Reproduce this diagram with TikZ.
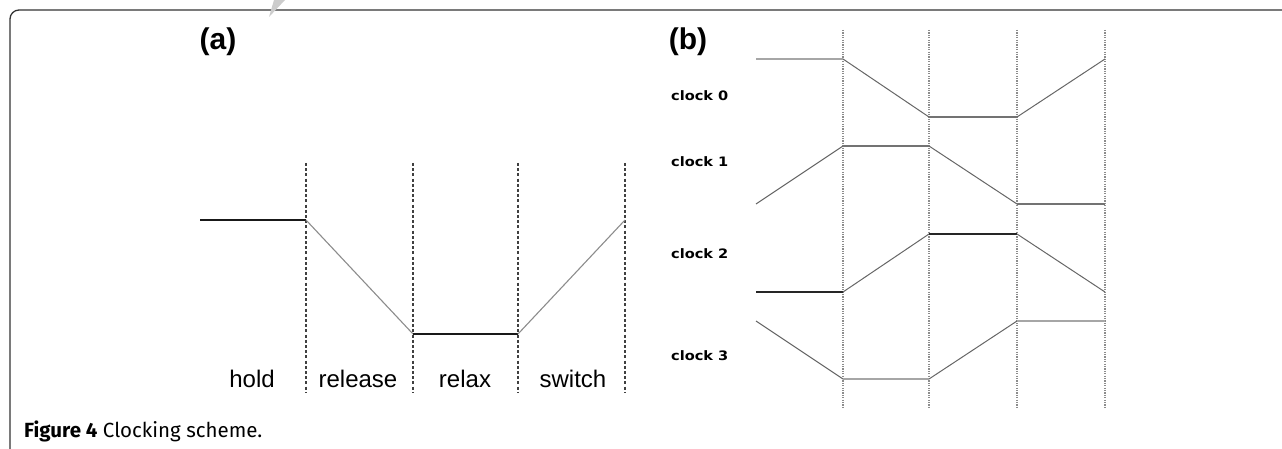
\documentclass[tikz,border=0pt]{standalone}
\usepackage{fontspec}
\setmainfont{Liberation Sans}
\newfontfamily\capfont{Fira Sans}
\newfontfamily\clkfont{DejaVu Sans}
\begin{document}
\begin{tikzpicture}[x=1pt,y=-1pt,
  frame/.style={draw=black!80,line width=1.3pt,rounded corners=9pt},
  sepa/.style={draw=black!75,line width=1.4pt,dash pattern=on 3pt off 2.2pt},
  sepb/.style={draw=black!45,line width=1.3pt,dash pattern=on 1.2pt off 1.2pt},
  holdline/.style={draw=black!90,line width=2pt},
  slopea/.style={draw=black!45,line width=1.1pt},
  slopeb/.style={draw=black!60,line width=1pt},
  lightflat/.style={draw=black!35,line width=2pt},
  midflat/.style={draw=black!55,line width=1.3pt},
  darkflat/.style={draw=black!85,line width=2pt},
  phase/.style={inner sep=0pt,font=\fontsize{24}{26}\selectfont},
  clk/.style={inner sep=0pt,anchor=west,xscale=1.12,font=\clkfont\bfseries\fontsize{13}{15}\selectfont},
  panel/.style={inner sep=0pt,font=\bfseries\fontsize{30}{32}\selectfont}]
\useasboundingbox (0,0) rectangle (1282,449);
% frame
\draw[frame] (10,449) -- (10,10) -- (1282,10);
\fill[black!20] (269,17) -- (274,0) -- (285,0) -- cycle;
% panel labels
\node[panel] (la) at (218,42) {(a)};
\node[panel] (lb) at (688,42) {(b)};
% ---------- panel (a) ----------
\foreach \n/\x in {1/306,2/413,3/518,4/625}{
  \coordinate (at\n) at (\x,163);
  \coordinate (ab\n) at (\x,392);
  \draw[sepa] (at\n) -- (ab\n);
}
\coordinate (a0) at (200,220);
\coordinate (a1) at (306,220);
\coordinate (a2) at (413,334);
\coordinate (a3) at (518,334);
\coordinate (a4) at (625,220);
\draw[holdline] (a0) -- (a1);
\draw[slopea] (a1) -- (a2);
\draw[holdline] (a2) -- (a3);
\draw[slopea] (a3) -- (a4);
\node[phase] (hold) at (252,379) {hold};
\node[phase] (release) at (358,379) {release};
\node[phase] (relax) at (465,379) {relax};
\node[phase] (switch) at (573,379) {switch};
% ---------- panel (b) ----------
\foreach \n/\x in {1/843,2/929,3/1017,4/1105}{
  \coordinate (bt\n) at (\x,30);
  \coordinate (bb\n) at (\x,408);
  \draw[sepb] (bt\n) -- (bb\n);
}
% clock 0
\coordinate (c00) at (756,59);
\coordinate (c01) at (843,59);
\coordinate (c02) at (929,117);
\coordinate (c03) at (1017,117);
\coordinate (c04) at (1105,59);
\draw[lightflat] (c00) -- (c01);
\draw[slopeb] (c01) -- (c02);
\draw[midflat] (c02) -- (c03);
\draw[slopeb] (c03) -- (c04);
% clock 1
\coordinate (c10) at (756,204);
\coordinate (c11) at (843,146);
\coordinate (c12) at (929,146);
\coordinate (c13) at (1017,204);
\coordinate (c14) at (1105,204);
\draw[slopeb] (c10) -- (c11);
\draw[midflat] (c11) -- (c12);
\draw[slopeb] (c12) -- (c13);
\draw[midflat] (c13) -- (c14);
% clock 2
\coordinate (c20) at (756,292);
\coordinate (c21) at (843,292);
\coordinate (c22) at (929,234);
\coordinate (c23) at (1017,234);
\coordinate (c24) at (1105,292);
\draw[darkflat] (c20) -- (c21);
\draw[slopeb] (c21) -- (c22);
\draw[darkflat] (c22) -- (c23);
\draw[slopeb] (c23) -- (c24);
% clock 3
\coordinate (c30) at (756,321);
\coordinate (c31) at (843,379);
\coordinate (c32) at (929,379);
\coordinate (c33) at (1017,321);
\coordinate (c34) at (1105,321);
\draw[slopeb] (c30) -- (c31);
\draw[lightflat] (c31) -- (c32);
\draw[slopeb] (c32) -- (c33);
\draw[lightflat] (c33) -- (c34);
% clock labels
\node[clk] (k0) at (671,96) {clock 0};
\node[clk] (k1) at (671,162) {clock 1};
\node[clk] (k2) at (671,254) {clock 2};
\node[clk] (k3) at (671,356) {clock 3};
% caption
\node[anchor=west,inner sep=0pt,font=\capfont\fontsize{20.5}{22}\selectfont] (cap) at (24,431) {\textbf{Figure 4} Clocking scheme.};
\end{tikzpicture}
\end{document}
